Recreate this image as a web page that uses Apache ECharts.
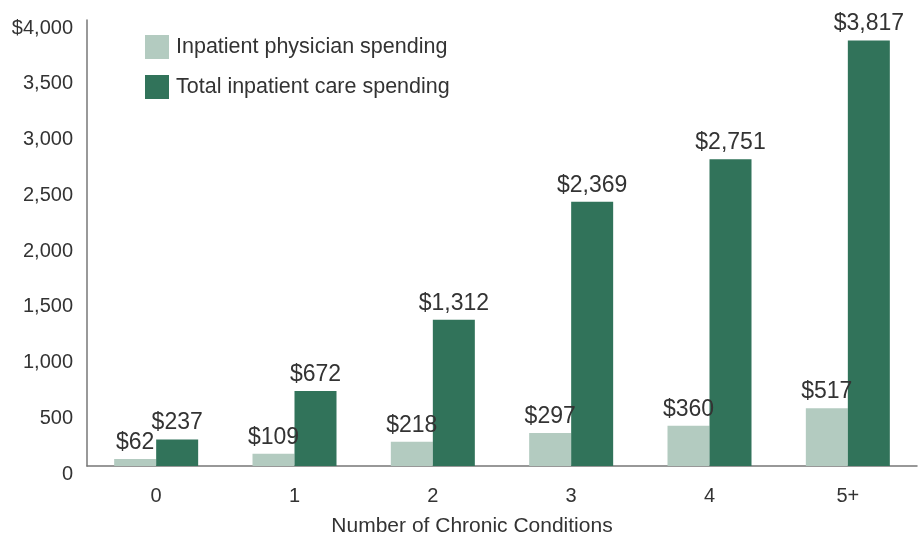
<!DOCTYPE html>
<html>
<head>
<meta charset="utf-8">
<script src="https://cdn.jsdelivr.net/npm/echarts@6/dist/echarts.min.js"></script>
<style>
  html, body { margin: 0; padding: 0; background: #fff; }
  #chart { width: 919px; height: 535px; }
</style>
</head>
<body>
<div id="chart"></div>
<script>
// Chart data
const categories = ['0', '1', '2', '3', '4', '5+'];
const physicianSpending = [62, 109, 218, 297, 360, 517];
const totalSpending = [237, 672, 1312, 2369, 2751, 3817];
const seriesNames = ['Inpatient physician spending', 'Total inpatient care spending'];

const fontFamily = '"Liberation Sans", Arial, Helvetica, sans-serif';
const textColor = '#333';

function money(v) {
    return '$' + v.toLocaleString('en-US');
}

function barSeries(name, data, color) {
    return {
        name: name,
        type: 'bar',
        data: data,
        barWidth: 42,
        barGap: 0,
        itemStyle: { color: color },
        label: {
            show: true,
            position: 'top',
            distance: 5,
            color: textColor,
            fontSize: 23,
            fontFamily: fontFamily,
            formatter: p => money(p.value)
        }
    };
}

document.addEventListener('DOMContentLoaded', function() {
    const chart = echarts.init(document.getElementById('chart'));
    chart.setOption({
        animation: false,
        textStyle: { fontFamily: fontFamily, color: textColor },
        grid: { left: 87, right: 2, top: 20, bottom: 69, outerBoundsMode: 'none' },
        legend: {
            orient: 'vertical',
            left: 140,
            top: 30,
            itemWidth: 24,
            itemHeight: 24,
            itemGap: 16,
            icon: 'rect',
            textStyle: { fontSize: 21.5, color: textColor, fontFamily: fontFamily, padding: [2, 0, 0, 2] },
            data: seriesNames
        },
        xAxis: {
            type: 'category',
            data: categories,
            axisLine: { lineStyle: { color: '#777', width: 1.5 } },
            axisTick: { show: false },
            axisLabel: { fontSize: 20, color: textColor, margin: 20 },
            name: 'Number of Chronic Conditions',
            nameLocation: 'middle',
            nameGap: 50,
            nameTextStyle: { fontSize: 21, color: textColor, padding: [0, 60, 0, 0] }
        },
        yAxis: {
            type: 'value',
            min: 0,
            max: 4000,
            interval: 500,
            axisLine: { show: true, lineStyle: { color: '#777', width: 1.5 } },
            axisTick: { show: false },
            splitLine: { show: false },
            axisLabel: {
                fontSize: 20,
                color: textColor,
                margin: 14,
                verticalAlign: 'top',
                lineHeight: 16,
                formatter: v => v === 4000 ? money(v) : v.toLocaleString('en-US')
            }
        },
        series: [
            barSeries(seriesNames[0], physicianSpending, '#b3cbc0'),
            barSeries(seriesNames[1], totalSpending, '#31735a')
        ]
    });
});
</script>
</body>
</html>
